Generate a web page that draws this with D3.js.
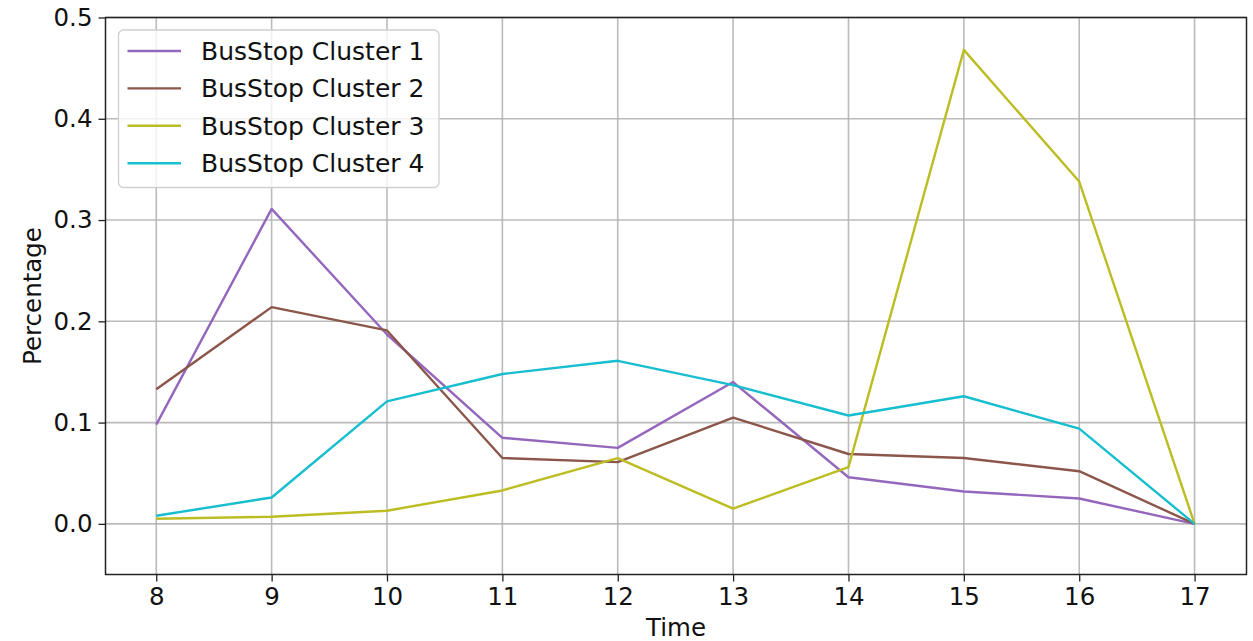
<!DOCTYPE html>
<html>
<head>
<meta charset="utf-8">
<script src="https://d3js.org/d3.v7.min.js"></script>
<style>
  html, body { margin: 0; padding: 0; background: #fff; }
  svg { display: block; font-family: "DejaVu Sans", sans-serif; }
</style>
</head>
<body>
<svg id="chart" width="1253" height="641"></svg>
<script>
const hours = [8, 9, 10, 11, 12, 13, 14, 15, 16, 17];
const seriesNames = ["BusStop Cluster 1", "BusStop Cluster 2", "BusStop Cluster 3", "BusStop Cluster 4"];
const cluster1 = [0.098, 0.311, 0.187, 0.085, 0.075, 0.140, 0.046, 0.032, 0.025, 0.0];
const cluster2 = [0.133, 0.214, 0.191, 0.065, 0.061, 0.105, 0.069, 0.065, 0.052, 0.0];
const cluster3 = [0.005, 0.007, 0.013, 0.033, 0.065, 0.015, 0.056, 0.468, 0.338, 0.0];
const cluster4 = [0.008, 0.026, 0.121, 0.148, 0.161, 0.137, 0.107, 0.126, 0.094, 0.0];
const colors = ["#9467bd", "#8c564b", "#bcbd22", "#17becf"];
const yTicks = [0.0, 0.1, 0.2, 0.3, 0.4, 0.5];
const xLabel = "Time";
const yLabel = "Percentage";

const allSeries = [cluster1, cluster2, cluster3, cluster4];

(function () {
const svg = d3.select("#chart");
const pL = 105.5, pR = 1246.5, pT = 17.5, pB = 574.5;

const x = d3.scaleLinear().domain([7.56, 17.45]).range([pL, pR]);
const y = d3.scaleLinear().domain([-0.05, 0.5]).range([pB, pT]);

// grid
const grid = svg.append("g");
grid.selectAll("line.vx").data(hours).enter().append("line")
  .attr("x1", d => x(d)).attr("x2", d => x(d))
  .attr("y1", pT).attr("y2", pB)
  .attr("stroke", "#b0b0b0").attr("stroke-width", 1.6).attr("opacity", 0.85);
grid.selectAll("line.hy").data(yTicks).enter().append("line")
  .attr("x1", pL).attr("x2", pR)
  .attr("y1", d => y(d)).attr("y2", d => y(d))
  .attr("stroke", "#b0b0b0").attr("stroke-width", 1.6).attr("opacity", 0.85);

// lines
const line = d3.line().x((d, i) => x(hours[i])).y(d => y(d));
svg.append("clipPath").attr("id", "clip").append("rect")
  .attr("x", pL).attr("y", pT).attr("width", pR - pL).attr("height", pB - pT);
allSeries.forEach((s, k) => {
  svg.append("path").datum(s)
    .attr("d", line)
    .attr("fill", "none")
    .attr("stroke", colors[k])
    .attr("stroke-width", 2.4)
    .attr("stroke-linejoin", "round")
    .attr("clip-path", "url(#clip)");
});

// axes
const xAxis = d3.axisBottom(x).tickValues(hours).tickFormat(d3.format("d")).tickSize(7).tickPadding(6);
const yAxis = d3.axisLeft(y).tickValues(yTicks).tickFormat(d3.format(".1f")).tickSize(7).tickPadding(6);
const gx = svg.append("g").attr("transform", `translate(0,${pB})`).call(xAxis);
const gy = svg.append("g").attr("transform", `translate(${pL},0)`).call(yAxis);
[gx, gy].forEach(g => {
  g.select(".domain").remove();
  g.selectAll(".tick line").attr("stroke", "#222").attr("stroke-width", 1.3);
  g.selectAll(".tick text").attr("font-size", 24.5).attr("fill", "#111")
    .attr("font-family", "'DejaVu Sans', sans-serif");
});
gx.selectAll(".tick text").attr("dy", "0.72em").attr("y", 13);

// frame
svg.append("rect").attr("x", pL).attr("y", pT)
  .attr("width", pR - pL).attr("height", pB - pT)
  .attr("fill", "none").attr("stroke", "#222").attr("stroke-width", 1.5);

// axis labels
svg.append("text").attr("x", (pL + pR) / 2).attr("y", 636)
  .attr("text-anchor", "middle").attr("font-size", 24.5).attr("fill", "#111").text(xLabel);
svg.append("text").attr("transform", "translate(41,296) rotate(-90)")
  .attr("text-anchor", "middle").attr("font-size", 24.5).attr("fill", "#111").text(yLabel);

// legend
const lg = svg.append("g");
lg.append("rect").attr("x", 118.5).attr("y", 30).attr("width", 320.5).attr("height", 157.5)
  .attr("rx", 5).attr("fill", "rgba(255,255,255,0.8)").attr("stroke", "#d0d0d0").attr("stroke-width", 1.3);
seriesNames.forEach((name, k) => {
  const yy = 51 + k * 37.4;
  lg.append("line").attr("x1", 127.5).attr("x2", 181).attr("y1", yy).attr("y2", yy)
    .attr("stroke", colors[k]).attr("stroke-width", 2.4);
  lg.append("text").attr("x", 201).attr("y", yy + 9).attr("font-size", 25)
    .attr("fill", "#111").text(name);
});
})();
</script>
</body>
</html>
